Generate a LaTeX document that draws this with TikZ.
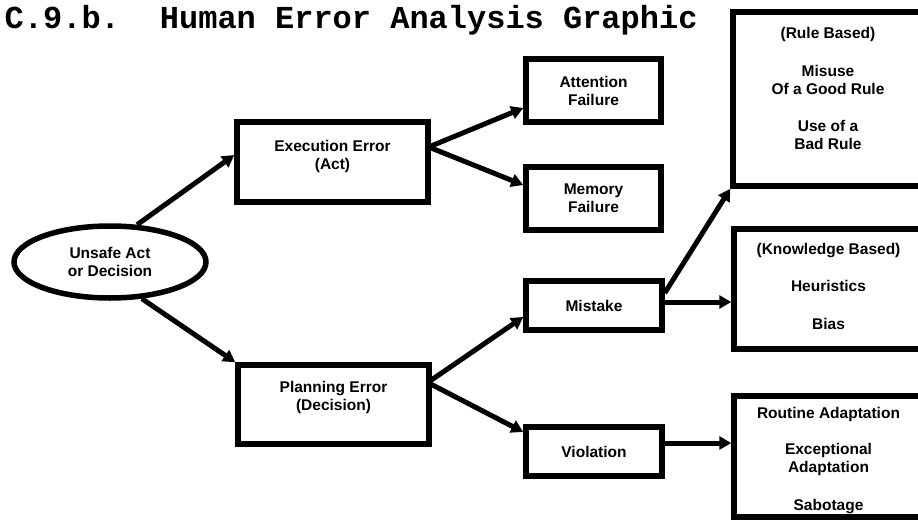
\documentclass[tikz,border=0pt]{standalone}
\usepackage{fontspec}
\setmainfont{Liberation Sans}
\newfontfamily\titlefont{Liberation Mono}
\usetikzlibrary{arrows.meta,shapes.geometric}
\begin{document}
\begin{tikzpicture}[x=1pt,y=-1pt,
  lbl/.style={font=\fontsize{15.5}{18}\selectfont\bfseries, align=center},
  box/.style={draw, rectangle, line width=5.5pt, inner sep=0pt, lbl},
  txt/.style={inner sep=0pt, lbl},
  arr/.style={line width=5pt, -{Triangle[length=12pt,width=13pt]}}
]
\useasboundingbox (0,0) rectangle (918,522);
\clip (0,0) rectangle (918,522);

% title
\node[anchor=base west, inner sep=0pt, font=\titlefont\bfseries\fontsize{32}{34}\selectfont] (title) at (4.5,28) {C.9.b.\hspace{40pt}Human Error Analysis Graphic};

% nodes
\node[ellipse, draw, line width=5.5pt, minimum width=192pt, minimum height=72pt, inner sep=0pt, lbl] (ell) at (110,262) {Unsafe Act\\or Decision};

\node[box, minimum width=191pt, minimum height=80pt] (exec) at (332.5,162) {};
\node[txt] (exect) at (332.5,156) {Execution Error\\(Act)};

\node[box, minimum width=191pt, minimum height=79pt] (plan) at (333.5,404.5) {};
\node[txt] (plant) at (333.5,397.5) {Planning Error\\(Decision)};

\node[box, minimum width=135pt, minimum height=63pt] (att) at (593.5,90.5) {Attention\\Failure};
\node[box, minimum width=135pt, minimum height=63pt] (mem) at (593.5,198.5) {Memory\\Failure};
\node[box, minimum width=136pt, minimum height=49pt] (mist) at (594,305.5) {Mistake};
\node[box, minimum width=136pt, minimum height=49pt] (viol) at (594,451.5) {Violation};

\node[box, minimum width=190pt, minimum height=174pt] (rule) at (828,99) {};
\node[txt] (rulet) at (828,88.5) {(Rule Based)\\[19.5pt]Misuse\\Of a Good Rule\\[19.5pt]Use of a\\Bad Rule};

\node[box, minimum width=189pt, minimum height=120pt] (know) at (828.5,289) {};
\node[txt] (knowt) at (828.5,286) {(Knowledge Based)\\[19.5pt]Heuristics\\[19.5pt]Bias};

\node[box, minimum width=189pt, minimum height=121pt] (rout) at (828.5,456.5) {};
\node[txt] (routt) at (828.5,460.5) {Routine Adaptation\\[18pt]Exceptional\\Adaptation\\[20pt]Sabotage};

% connectors
\draw[arr] (ell.54) -- ([yshift=7pt]exec.west);
\draw[arr] (ell.-49) -- (plan.north west);
\draw[arr] ([xshift=-2pt,yshift=15pt]exec.east) -- ([yshift=-17.5pt]att.west);
\draw[arr] ([xshift=-2pt,yshift=15pt]exec.east) -- ([yshift=13.5pt]mem.west);
\draw[arr] ([xshift=-4pt,yshift=22pt]plan.east) -- ([yshift=-11.5pt]mist.west);
\draw[arr] ([xshift=-4pt,yshift=22pt]plan.east) -- ([yshift=19.5pt]viol.west);
\draw[arr] ([yshift=12.5pt]mist.east) -- (rule.south west);
\draw[arr] ([yshift=3.5pt]mist.east) -- ([yshift=-13pt]know.west);
\draw[arr] ([yshift=8.5pt]viol.east) -- ([yshift=13.5pt]rout.west);
\end{tikzpicture}
\end{document}
